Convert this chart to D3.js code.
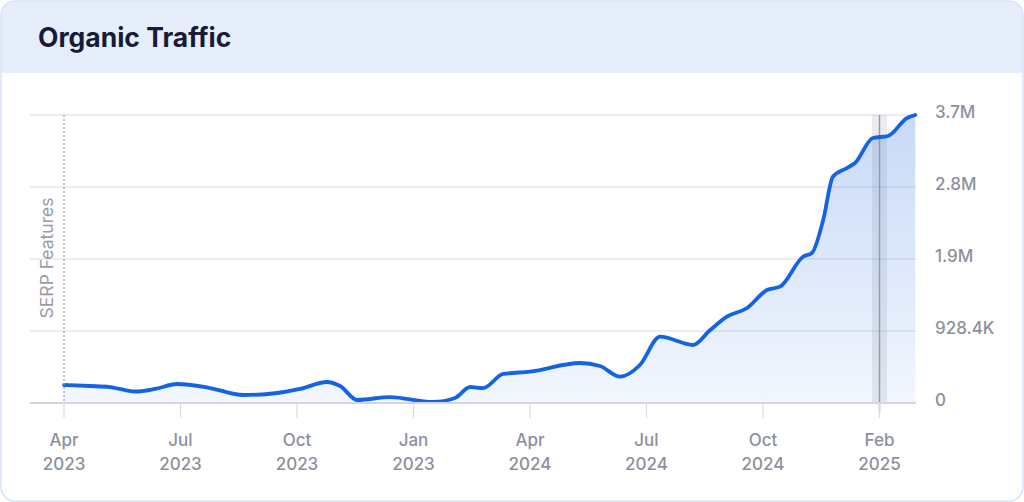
<!DOCTYPE html>
<html>
<head>
<meta charset="utf-8">
<script src="https://cdn.jsdelivr.net/npm/d3@7"></script>
<style>
  html, body { margin: 0; padding: 0; background: #ffffff; }
  svg { display: block; }
</style>
</head>
<body>
<svg id="chart" width="1024" height="502"></svg>
<script>
// ---- data ----
const title = "Organic Traffic";
// months since Apr 2023 (position along the time axis)
const months = [0, 0.67, 1.18, 1.83, 2.34, 2.91, 3.76, 4.61, 5.49, 6.08, 6.77, 7.11, 7.55, 8.4, 9.5, 10.07, 10.46, 10.79, 11.31, 12.0, 13.29, 13.8, 14.32, 14.83, 15.35, 16.2, 16.64, 17.07, 17.59, 18.1, 18.44, 19.03, 19.26, 19.55, 19.8, 20.16, 20.37, 20.83, 21.22, 21.71, 21.92];
// organic traffic (visits)
const traffic = [232000, 219000, 206000, 148000, 181000, 245000, 193000, 103000, 129000, 181000, 271000, 219000, 39000, 77000, 13000, 64000, 206000, 193000, 374000, 404000, 516000, 477000, 339000, 490000, 855000, 748000, 941000, 1113000, 1225000, 1457000, 1500000, 1886000, 1934000, 2360000, 2918000, 3030000, 3095000, 3417000, 3443000, 3675000, 3714000];
const yTicks = [0, 928400, 1856800, 2785200, 3713600];
const yTickLabels = ["0", "928.4K", "1.9M", "2.8M", "3.7M"];
const xTicks = [0, 3, 6, 9, 12, 15, 18, 21];
const xTickMonths = ["Apr", "Jul", "Oct", "Jan", "Apr", "Jul", "Oct", "Feb"];
const xTickYears = ["2023", "2023", "2023", "2023", "2024", "2024", "2024", "2025"];
const markerMonth = 21;
const serpMonth = 0;
const serpLabel = "SERP Features";

// ---- layout ----
const W = 1024, H = 502;
const plot = { left: 30, right: 916, top: 115, bottom: 403 };
const svg = d3.select("#chart");
const font = "Inter, 'Open Sans', sans-serif";
const labelColor = "#8d909b";

// card
svg.append("rect").attr("x", 1).attr("y", 1).attr("width", W - 2).attr("height", H - 2)
  .attr("rx", 14).attr("fill", "#ffffff");
const clipId = "hdrclip";
svg.append("clipPath").attr("id", clipId).append("rect")
  .attr("x", 1).attr("y", 1).attr("width", W - 2).attr("height", H - 2).attr("rx", 14);
svg.append("rect").attr("x", 0).attr("y", 0).attr("width", W).attr("height", 73)
  .attr("fill", "#e6eefb").attr("clip-path", `url(#${clipId})`);
svg.append("rect").attr("x", 1).attr("y", 1).attr("width", W - 2).attr("height", H - 2)
  .attr("rx", 14).attr("fill", "none").attr("stroke", "#d5e3fa").attr("stroke-width", 1.5);
svg.append("text").attr("x", 38).attr("y", 47).text(title)
  .attr("font-family", font).attr("font-weight", 700).attr("font-size", 26.5)
  .attr("fill", "#161b3a");

// scales
const x = d3.scaleLinear().domain([0, 21.94]).range([64, plot.right]);
const y = d3.scaleLinear().domain([0, 3713600]).range([plot.bottom, plot.top]);

// gradient
const defs = svg.append("defs");
const grad = defs.append("linearGradient").attr("id", "areaGrad")
  .attr("gradientUnits", "userSpaceOnUse")
  .attr("x1", 0).attr("x2", 0).attr("y1", plot.top).attr("y2", plot.bottom);
grad.append("stop").attr("offset", 0).attr("stop-color", "#2a6ee0").attr("stop-opacity", 0.26);
grad.append("stop").attr("offset", 1).attr("stop-color", "#2a6ee0").attr("stop-opacity", 0.06);

// gridlines
svg.append("g").selectAll("line").data(yTicks.slice(1)).join("line")
  .attr("x1", plot.left).attr("x2", plot.right)
  .attr("y1", d => y(d)).attr("y2", d => y(d))
  .attr("stroke", "#d9dbe1").attr("stroke-width", 1.2);

// marker band
const mx = x(markerMonth);
svg.append("rect").attr("x", mx - 7.5).attr("y", plot.top).attr("width", 15)
  .attr("height", plot.bottom - plot.top).attr("fill", "#8e96a8").attr("opacity", 0.18);

// area and line
const pts = months.map((m, i) => [m, traffic[i]]);
svg.append("path").datum(pts)
  .attr("d", d3.area().x(d => x(d[0])).y0(y(0)).y1(d => y(d[1])).curve(d3.curveMonotoneX))
  .attr("fill", "url(#areaGrad)");

// marker line
svg.append("line").attr("x1", mx).attr("x2", mx).attr("y1", plot.top).attr("y2", plot.bottom + 10)
  .attr("stroke", "#9a9ca6").attr("stroke-width", 1.5);

svg.append("path").datum(pts)
  .attr("d", d3.line().x(d => x(d[0])).y(d => y(d[1])).curve(d3.curveMonotoneX))
  .attr("fill", "none").attr("stroke", "#1463e3").attr("stroke-width", 3.8)
  .attr("stroke-linejoin", "round").attr("stroke-linecap", "round");

// bottom axis baseline
svg.append("line").attr("x1", plot.left).attr("x2", plot.right)
  .attr("y1", plot.bottom).attr("y2", plot.bottom)
  .attr("stroke", "#d3d6dd").attr("stroke-width", 1.8);

// serp line
svg.append("line").attr("x1", x(serpMonth)).attr("x2", x(serpMonth))
  .attr("y1", plot.top).attr("y2", plot.bottom)
  .attr("stroke", "#9ea1ab").attr("stroke-width", 1.2).attr("stroke-dasharray", "2,2");
svg.append("text").text(serpLabel)
  .attr("transform", `translate(${x(serpMonth) - 11},258) rotate(-90)`)
  .attr("text-anchor", "middle").attr("font-family", font).attr("font-size", 17.5)
  .attr("fill", "#9a9ca6");

// x ticks
const xg = svg.append("g");
xg.selectAll("line").data(xTicks).join("line")
  .attr("x1", d => x(d)).attr("x2", d => x(d))
  .attr("y1", plot.bottom).attr("y2", plot.bottom + 15)
  .attr("stroke", "#d9dbe1").attr("stroke-width", 1.2);
xg.selectAll("text.m").data(xTicks).join("text").attr("class", "m")
  .attr("x", d => x(d)).attr("y", 446).attr("text-anchor", "middle")
  .attr("font-family", font).attr("font-size", 17).attr("font-weight", 500)
  .attr("fill", labelColor).text((d, i) => xTickMonths[i]);
xg.selectAll("text.y").data(xTicks).join("text").attr("class", "y")
  .attr("x", d => x(d)).attr("y", 470).attr("text-anchor", "middle")
  .attr("font-family", font).attr("font-size", 17).attr("font-weight", 500)
  .attr("fill", labelColor).text((d, i) => xTickYears[i]);

// y labels (right)
svg.append("g").selectAll("text").data(yTicks).join("text")
  .attr("x", 935).attr("y", d => y(d) - 3).attr("dy", "0.35em")
  .attr("font-family", font).attr("font-size", 17).attr("font-weight", 500)
  .attr("fill", labelColor).text((d, i) => yTickLabels[i]);
</script>
</body>
</html>
